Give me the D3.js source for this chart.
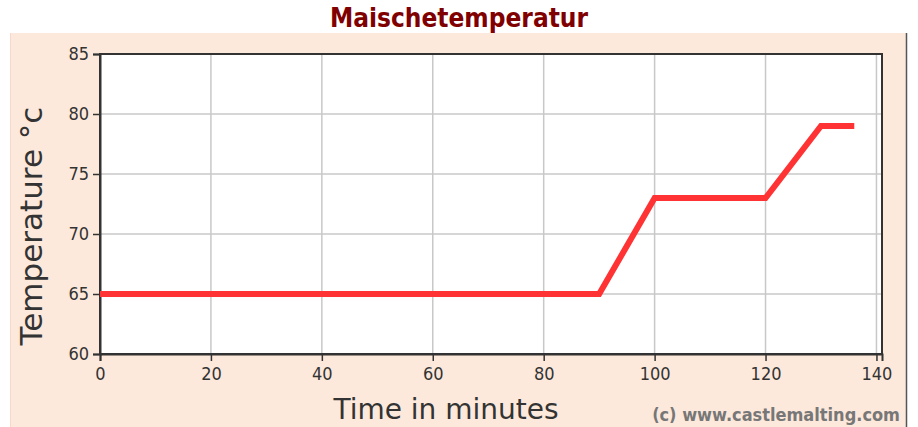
<!DOCTYPE html>
<html>
<head>
<meta charset="utf-8">
<script src="https://cdn.jsdelivr.net/npm/d3@7"></script>
<style>
  body { margin: 0; background: #fff; }
  svg { display: block; }
</style>
</head>
<body>
<div class="chart"></div>
<script>
// mash schedule, time (minutes) vs temperature (C)
var timeMinutes = [0, 90, 100, 120, 130, 136];
var tempCelsius = [65, 65, 73, 73, 79, 79];
var xTicks = [0, 20, 40, 60, 80, 100, 120, 140];
var yTicks = [60, 65, 70, 75, 80, 85];

var svgWidth = 918;
var svgHeight = 427;

var margin = { top: 54, right: 36, bottom: 73, left: 100 };
var width = 882 - margin.left;
var height = 354 - margin.top;

var svg = d3.select(".chart")
  .append("svg")
  .attr("width", svgWidth)
  .attr("height", svgHeight);

// peach panel behind the chart
svg.append("rect")
  .attr("x", 10).attr("y", 33)
  .attr("width", 896).attr("height", 394)
  .attr("fill", "#fde9dc");
svg.append("line")
  .attr("x1", 10.5).attr("x2", 10.5).attr("y1", 33).attr("y2", 427)
  .attr("stroke", "#f6d9c8");
svg.append("line")
  .attr("x1", 906.5).attr("x2", 906.5).attr("y1", 33).attr("y2", 427)
  .attr("stroke", "#555").attr("stroke-width", 1.5);

// title
svg.append("text")
  .attr("x", 459).attr("y", 27)
  .attr("text-anchor", "middle")
  .attr("font-family", "DejaVu Sans Condensed, DejaVu Sans, sans-serif")
  .attr("font-weight", "bold")
  .attr("font-size", 26)
  .attr("fill", "#800000")
  .text("Maischetemperatur");

var chartGroup = svg.append("g")
  .attr("transform", `translate(${margin.left}, ${margin.top})`);

var xLinearScale = d3.scaleLinear().domain([0, 141]).range([0, width]);
var yLinearScale = d3.scaleLinear().domain([60, 85]).range([height, 0]);

chartGroup.append("rect")
  .attr("width", width).attr("height", height)
  .attr("fill", "#fff");

// grid
chartGroup.append("g")
  .selectAll("line")
  .data(xTicks.slice(1))
  .enter()
  .append("line")
  .attr("x1", d => xLinearScale(d)).attr("x2", d => xLinearScale(d))
  .attr("y1", 0).attr("y2", height)
  .attr("stroke", "#c8c8c8").attr("stroke-width", 1.5);

chartGroup.append("g")
  .selectAll("line")
  .data(yTicks.slice(1, -1))
  .enter()
  .append("line")
  .attr("x1", 0).attr("x2", width)
  .attr("y1", d => yLinearScale(d)).attr("y2", d => yLinearScale(d))
  .attr("stroke", "#c8c8c8").attr("stroke-width", 1.5);

// frame
chartGroup.append("rect")
  .attr("width", width).attr("height", height)
  .attr("fill", "none")
  .attr("stroke", "#333").attr("stroke-width", 2);

var tickFont = "DejaVu Sans Condensed, DejaVu Sans, sans-serif";

var bottomAxis = d3.axisBottom(xLinearScale).tickValues(xTicks).tickSize(7).tickPadding(6);
var leftAxis = d3.axisLeft(yLinearScale).tickValues(yTicks).tickSize(7).tickPadding(4);

var xAxis = chartGroup.append("g")
  .attr("transform", `translate(0, ${height})`)
  .call(bottomAxis);

var yAxis = chartGroup.append("g")
  .call(leftAxis);

[xAxis, yAxis].forEach(function(ax) {
  ax.select(".domain").attr("stroke", "#333").attr("stroke-width", 2);
  ax.selectAll(".tick line").attr("stroke", "#333").attr("stroke-width", 1.5);
  ax.selectAll(".tick text")
    .attr("font-family", tickFont)
    .attr("font-size", 18)
    .attr("fill", "#333");
});

// temperature line
var line = d3.line()
  .x(d => xLinearScale(d[0]))
  .y(d => yLinearScale(d[1]));

chartGroup.append("path")
  .datum(timeMinutes.map((t, i) => [t, tempCelsius[i]]))
  .attr("d", line)
  .attr("fill", "none")
  .attr("stroke", "#ff3333")
  .attr("stroke-width", 6)
  .attr("stroke-linejoin", "miter");

// axis titles
svg.append("text")
  .attr("x", 446).attr("y", 419)
  .attr("text-anchor", "middle")
  .attr("font-family", "DejaVu Sans, sans-serif")
  .attr("font-size", 28)
  .attr("fill", "#333")
  .text("Time in minutes");

svg.append("text")
  .attr("transform", "translate(42, 226) rotate(-90)")
  .attr("text-anchor", "middle")
  .attr("font-family", "DejaVu Sans, sans-serif")
  .attr("font-size", 31)
  .attr("fill", "#333")
  .text("Temperature °c");

svg.append("text")
  .attr("x", 900).attr("y", 421)
  .attr("text-anchor", "end")
  .attr("font-family", tickFont)
  .attr("font-weight", "bold")
  .attr("font-size", 18)
  .attr("fill", "#777")
  .text("(c) www.castlemalting.com");
</script>
</body>
</html>
